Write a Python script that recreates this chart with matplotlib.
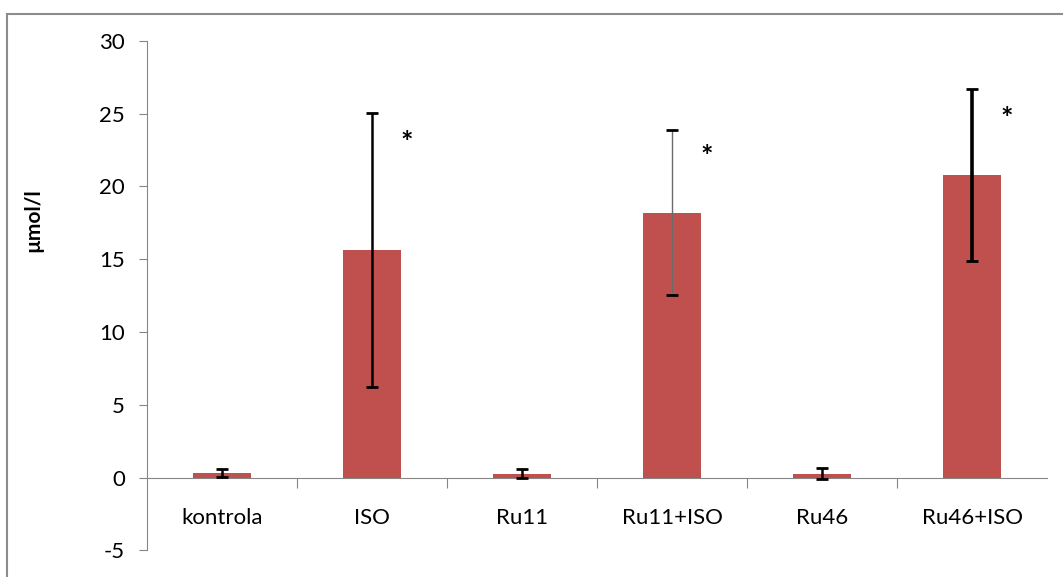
import matplotlib
matplotlib.use("Agg")
import matplotlib.pyplot as plt
from matplotlib.patches import Rectangle

# Dane wykresu
categories = ["kontrola", "ISO", "Ru11", "Ru11+ISO", "Ru46", "Ru46+ISO"]
means = [0.33, 15.65, 0.27, 18.2, 0.27, 20.8]
errors = [0.28, 9.4, 0.3, 5.65, 0.37, 5.9]
stars = ["", "*", "", "*", "", "*"]
star_y = [0, 23.0, 0, 22.0, 0, 24.6]
yticks = [-5, 0, 5, 10, 15, 20, 25, 30]

fig = plt.figure(figsize=(10.63, 5.77), dpi=100)
plt.rcParams['font.family'] = ['Lato', 'DejaVu Sans']
plt.rcParams['axes.unicode_minus'] = False

# ramka wykresu
fig.patches.append(Rectangle((7 / 1063, -0.1), 1.2, (577 - 13.5) / 577 + 0.1,
                             transform=fig.transFigure, fill=False,
                             edgecolor='#8c8c8c', linewidth=1.5))

ax = fig.add_axes([147 / 1063, 26.7 / 577, 900 / 1063, 509.6 / 577])
x = list(range(len(categories)))
ax.bar(x, means, width=0.39, color='#C0504D', zorder=2)

# słupki błędów - różne grubości jak w oryginale
e_width = [1.8, 1.8, 1.8, 1.0, 1.8, 2.6]
e_color = ['black', 'black', 'black', '#6a6a6a', 'black', 'black']
for i in x:
    ax.errorbar(i, means[i], yerr=errors[i], fmt='none', ecolor=e_color[i],
                elinewidth=e_width[i], capsize=0, zorder=3)
    ax.errorbar(i, means[i], yerr=errors[i], fmt='none', ecolor='black',
                elinewidth=0, capsize=4.3, capthick=2.0, zorder=3)
    if stars[i]:
        ax.text(i + 0.23, star_y[i], stars[i], fontsize=21, fontweight='bold',
                ha='center', va='center', color='black')
    ax.text(i, -2.8, categories[i], fontsize=16, ha='center', va='center',
            color='black')

ax.set_xlim(-0.5, len(categories) - 0.5)
ax.set_ylim(-5, 30)
ax.set_yticks(yticks)
ax.set_xticks([i + 0.5 for i in x[:-1]])
ax.set_xticklabels([])

for s in ['top', 'right']:
    ax.spines[s].set_visible(False)
ax.spines['bottom'].set_position(('data', 0))
ax.spines['bottom'].set_color('#868686')
ax.spines['left'].set_color('#868686')
ax.tick_params(axis='y', direction='out', length=6, color='#868686',
               labelsize=16, pad=10)
ax.tick_params(axis='x', direction='out', length=7, color='#868686')

fig.text(33 / 1063, 1 - 220 / 577, "µmol/l", fontsize=15, fontweight='bold',
         rotation=90, ha='center', va='center')

fig.savefig("out.png", dpi=100)
